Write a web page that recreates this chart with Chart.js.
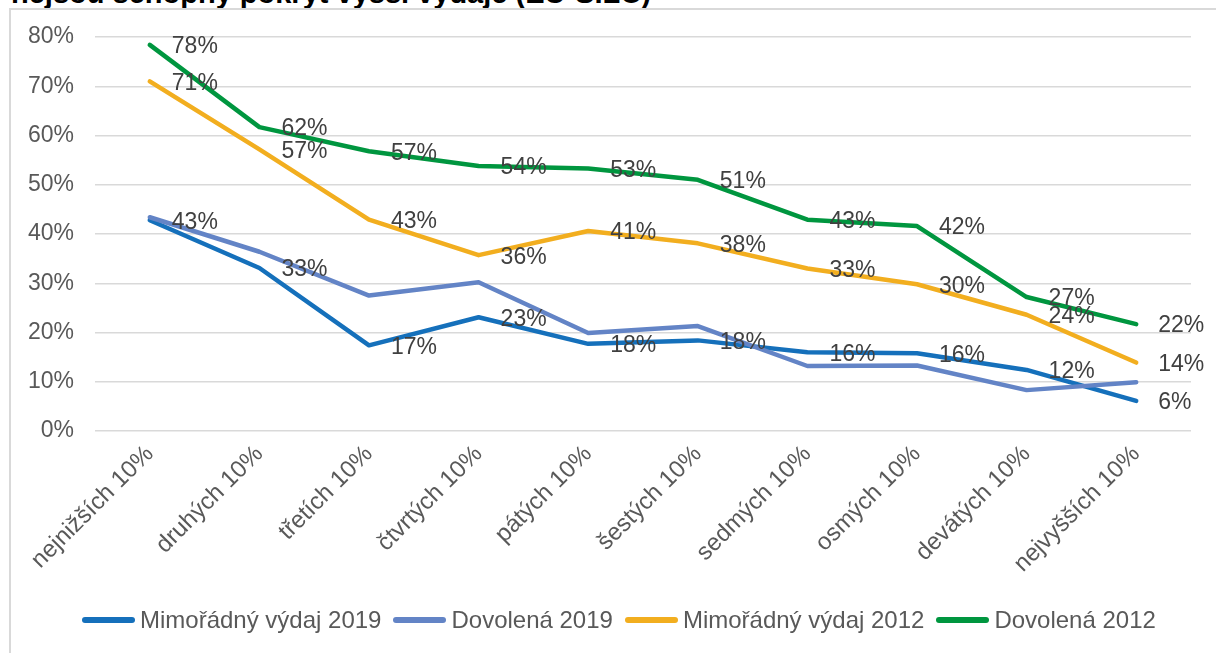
<!DOCTYPE html>
<html><head><meta charset="utf-8">
<script src="https://cdn.jsdelivr.net/npm/chart.js@4.4.1/dist/chart.umd.min.js"></script>
<style>
html,body{margin:0;padding:0;background:#fff;width:1216px;height:653px;overflow:hidden;}
#title{position:absolute;left:11px;top:-21px;font:bold 29px "Liberation Sans",Arial,sans-serif;color:#000;line-height:29px;white-space:nowrap;}
#frame{position:absolute;left:9px;top:8px;width:1300px;height:700px;border-left:2px solid #d9d9d9;border-top:2px solid #d9d9d9;}
#wrap{position:absolute;left:0;top:0;width:1216px;height:653px;}
#legend{position:absolute;left:82px;top:604px;height:32px;display:flex;align-items:center;font:24px "Liberation Sans",Arial,sans-serif;color:#595959;white-space:nowrap;}
#legend .item{display:flex;align-items:center;margin-right:12px;}
#legend .sw{width:53px;height:6px;border-radius:3px;margin-right:5px;}
</style></head>
<body>
<div id="title">nejsou schopny pokrýt vyšší výdaje (EU-SILC)</div>
<div id="frame"></div>
<div id="wrap"><canvas id="c"></canvas></div>
<div id="legend"></div>
<script>
const categories = ['nejnižších 10%','druhých 10%','třetích 10%','čtvrtých 10%','pátých 10%','šestých 10%','sedmých 10%','osmých 10%','devátých 10%','nejvyšších 10%'];
const mimoradny2019 = [42.8, 33.1, 17.4, 23.1, 17.7, 18.4, 16.0, 15.8, 12.4, 6.1];
const dovolena2019  = [43.4, 36.4, 27.5, 30.2, 19.9, 21.3, 13.2, 13.3, 8.3, 9.9];
const mimoradny2012 = [71.0, 57.2, 42.9, 35.7, 40.6, 38.1, 33.0, 29.8, 23.6, 13.9];
const dovolena2012  = [78.4, 61.7, 56.8, 53.8, 53.3, 51.0, 42.9, 41.6, 27.2, 21.7];
const seriesNames = ['Mimořádný výdaj 2019','Dovolená 2019','Mimořádný výdaj 2012','Dovolená 2012'];
const seriesColors = ['#1570BB','#6384C6','#F2AE1F','#00963F'];
const yTicks = [0,10,20,30,40,50,60,70,80];

const FONT = '"Liberation Sans", Arial, sans-serif';

const valueLabels = {
  id: 'valueLabels',
  afterDatasetsDraw(chart) {
    const ctx = chart.ctx;
    ctx.save();
    ctx.font = '23px ' + FONT;
    ctx.fillStyle = '#404040';
    ctx.textAlign = 'left';
    ctx.textBaseline = 'middle';
    chart.data.datasets.forEach((ds, di) => {
      if (!ds.showValues) return;
      const meta = chart.getDatasetMeta(di);
      meta.data.forEach((pt, i) => {
        ctx.fillText(Math.round(ds.data[i]) + '%', pt.x + 22, pt.y + 2);
      });
    });
    ctx.restore();
  }
};

function ds(i, data, order, showValues) {
  return {label: seriesNames[i], data, borderColor: seriesColors[i], backgroundColor: seriesColors[i], borderWidth: 4.5,
    pointRadius: 0, tension: 0, borderJoinStyle: 'round', borderCapStyle: 'round',
    order, showValues};
}

const lg = document.getElementById('legend');
seriesNames.forEach((n, i) => {
  const it = document.createElement('div'); it.className = 'item';
  const sw = document.createElement('div'); sw.className = 'sw'; sw.style.background = seriesColors[i];
  const tx = document.createElement('span'); tx.textContent = n;
  it.appendChild(sw); it.appendChild(tx); lg.appendChild(it);
});

new Chart(document.getElementById('c'), {
  type: 'line',
  data: {
    labels: categories,
    datasets: [
      ds(0, mimoradny2019, 3, true),
      ds(1, dovolena2019, 2, false),
      ds(2, mimoradny2012, 1, true),
      ds(3, dovolena2012, 0, true)
    ]
  },
  options: {
    responsive: true, maintainAspectRatio: false, animation: false, devicePixelRatio: 1,
    layout: {padding: {left: 0, right: 25, top: 37, bottom: 0}},
    plugins: {
      tooltip: {enabled: false},
      legend: {display: false}
    },
    scales: {
      x: {
        offset: true,
        grid: {display: false, drawTicks: false},
        border: {display: false},
        ticks: {font: {family: FONT, size: 24}, color: '#595959', minRotation: 45, maxRotation: 45, padding: 9, autoSkip: false},
        afterFit(s) { s.height = 222; }
      },
      y: {
        min: 0, max: 80,
        afterBuildTicks(s) { s.ticks = yTicks.map(v => ({value: v})); },
        grid: {color: '#D9D9D9', lineWidth: 1.5, drawTicks: false},
        border: {display: false},
        ticks: {font: {family: FONT, size: 23}, color: '#595959', padding: 21, callback: v => v + '%'},
        afterFit(s) { s.width = 95; }
      }
    }
  },
  plugins: [valueLabels]
});
</script>
</body></html>
